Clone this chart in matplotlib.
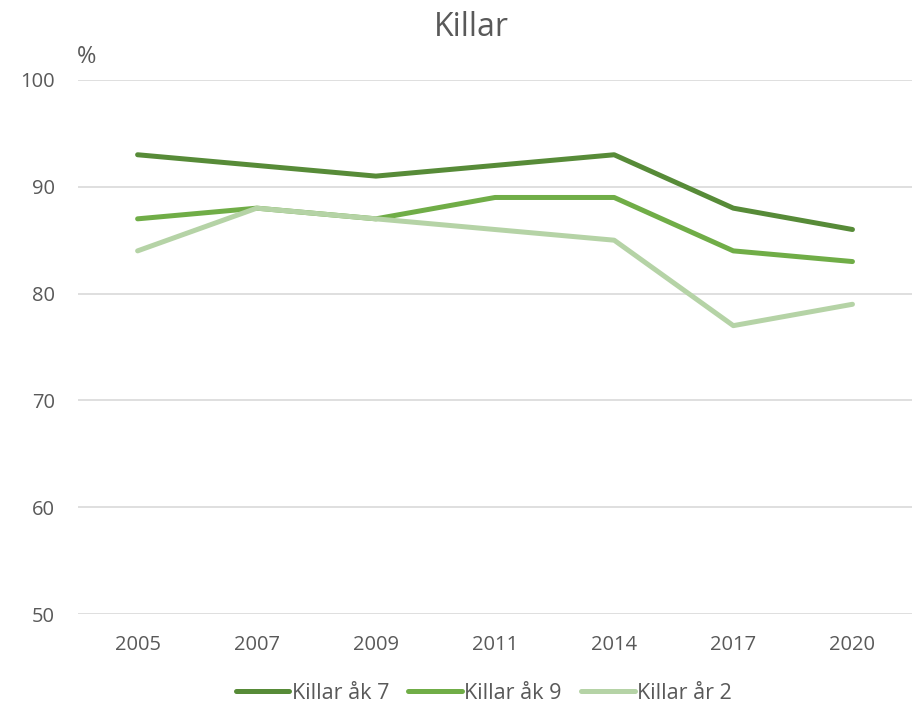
import matplotlib.pyplot as plt

years = ["2005", "2007", "2009", "2011", "2014", "2017", "2020"]
ak7 = [93, 92, 91, 92, 93, 88, 86]
ak9 = [87, 88, 87, 89, 89, 84, 83]
ar2 = [84, 88, 87, 86, 85, 77, 79]

plt.rcParams['font.family'] = ['Open Sans', 'DejaVu Sans']
txt = "#595959"

fig = plt.figure(figsize=(9.18, 7.11), dpi=100)
ax = fig.add_axes([0.085, 0.1364, 0.9085, 0.7511])

x = list(range(len(years)))
ax.plot(x, ak7, color="#578B38", lw=3.6, solid_capstyle="round", solid_joinstyle="round", label="Killar åk 7")
ax.plot(x, ak9, color="#70AD47", lw=3.6, solid_capstyle="round", solid_joinstyle="round", label="Killar åk 9")
ax.plot(x, ar2, color="#B5D3A6", lw=3.6, solid_capstyle="round", solid_joinstyle="round", label="Killar år 2")

ax.set_xlim(-0.5, len(years) - 0.5)
ax.set_ylim(50, 100)
ax.set_yticks([50, 60, 70, 80, 90, 100])
ax.set_xticks(x)
ax.set_xticklabels(years)
ax.grid(axis="y", color="#d9d9d9", lw=1.2)
ax.set_axisbelow(True)
for s in ax.spines.values():
    s.set_visible(False)
ax.tick_params(length=0, labelsize=14.5, colors=txt)
ax.tick_params(axis="y", pad=16.5)
ax.tick_params(axis="x", pad=15)

fig.text(0.514, 0.962, "Killar", ha="center", va="center", fontsize=23, color=txt)
fig.text(0.094, 0.92, "%", ha="center", va="center", fontsize=17, color=txt)

fig.legend(loc="center", bbox_to_anchor=(0.527, 0.025), ncol=3, frameon=False,
           fontsize=15.5, labelcolor=txt, handlelength=2.5, handletextpad=0.1,
           columnspacing=0.9)

fig.savefig("out.png", dpi=100)
